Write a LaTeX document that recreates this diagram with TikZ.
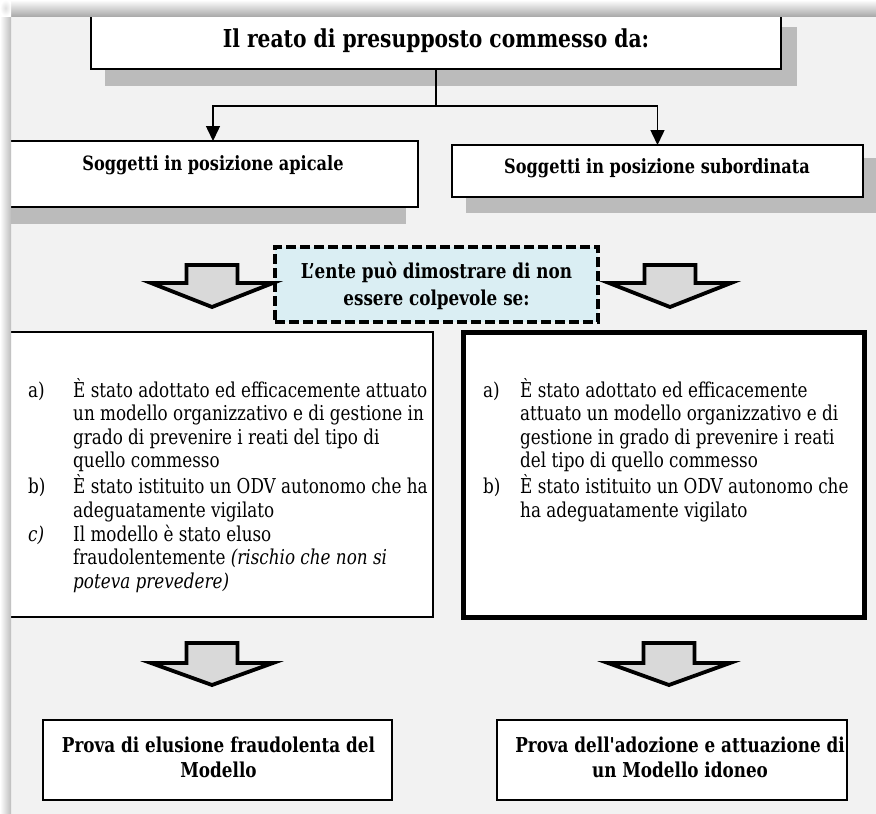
\documentclass[tikz,border=0pt]{standalone}
\usepackage{fontspec}
\setmainfont{DejaVu Serif}[FakeStretch=0.82,Ligatures=TeXOff]
\usetikzlibrary{arrows.meta}
\definecolor{framebg}{HTML}{F2F2F2}
\definecolor{shad}{HTML}{BBBBBB}
\definecolor{arrfill}{HTML}{D9D9D9}
\definecolor{lblue}{HTML}{DAEEF3}
\tikzset{
  plainbox/.style={draw=black, line width=1.5pt, fill=white, inner sep=0pt, outer sep=0pt},
  listbox/.style={draw=black, line width=2pt, fill=white, inner sep=0pt, outer sep=0pt},
  heavybox/.style={draw=black, line width=5pt, fill=white, inner sep=0pt, outer sep=0pt},
  dashbox/.style={draw=black, line width=3.5pt, dash pattern=on 10pt off 4pt, fill=lblue, inner sep=0pt, outer sep=0pt},
  conn/.style={line width=1.5pt, -{Triangle[width=14pt,length=15pt]}},
  blockarrow/.style={draw=black, line width=3.8pt, fill=arrfill, line join=miter},
  headtxt/.style={inner sep=0pt, font=\bfseries\fontsize{24.7}{28}\selectfont},
  subtxt/.style={inner sep=0pt, font=\bfseries\fontsize{19.7}{24}\selectfont},
  midtxt/.style={inner sep=0pt, font=\bfseries\fontsize{20.5}{27}\selectfont},
  bottxt/.style={inner sep=0pt, font=\bfseries\fontsize{20.5}{25}\selectfont},
  listtxt/.style={inner sep=0pt, font=\fontsize{20.5}{23.6}\selectfont},
}
\newcommand\blockarr[4]{%
  \draw[blockarrow] (#1-25.5,#2) -- (#1+25.5,#2) -- (#1+25.5,#3) -- (#1+61,#3)
    -- (#1,#4) -- (#1-61,#3) -- (#1-25.5,#3) -- cycle;}
\begin{document}
\begin{tikzpicture}[x=1pt,y=-1pt]
\useasboundingbox (0,0) rectangle (876,814);
\fill[white] (0,0) rectangle (876,814);
\fill[framebg] (11,16) rectangle (876,814);

% shadows of boxes
\fill[shad] (105,27) rectangle (797,86);
\fill[shad] (8,150) rectangle (406,224);
\fill[shad] (466,158) rectangle (876,213);

% top box
\node[plainbox, minimum width=690pt, minimum height=55pt] (top) at (436,41.5) {};
\node[headtxt, anchor=base] (toptxt) at (436,47) {Il reato di presupposto commesso da:};

% second level boxes
\node[plainbox, minimum width=410pt, minimum height=66pt] (apical) at (213,174) {};
\node[subtxt, anchor=base] (apicaltxt) at (213,170) {Soggetti in posizione apicale};
\node[plainbox, minimum width=411pt, minimum height=52pt] (sub) at (657.5,171) {};
\node[subtxt, anchor=base] (subtxt) at (657,173) {Soggetti in posizione subordinata};

% connectors
\coordinate (j) at (436,106);
\draw[line width=1.5pt] (top.south) -- (j);
\draw[conn] (j) -| (apical.north);
\draw[conn] (j) -| (sub.north);

% dashed box
\node[dashbox, minimum width=323pt, minimum height=75pt] (ente) at (436.5,284.5) {};
\node[midtxt, anchor=base] (entetxt1) at (436.5,278) {L’ente può dimostrare di non};
\node[midtxt, anchor=base] (entetxt2) at (436.5,305) {essere colpevole se:};

% block arrows top
\blockarr{212}{265}{283}{307}
\blockarr{670}{265}{283}{307}

% list boxes
\node[listbox, minimum width=425pt, minimum height=285pt] (left) at (220.5,474.5) {};
\node[heavybox, minimum width=401pt, minimum height=285.5pt] (right) at (664,474.75) {};

\node[listtxt, anchor=base west] (lefttxt) at (28,397) {%
\begin{tabular}[t]{@{}l@{}l@{}}
\makebox[45pt][l]{a)} & È stato adottato ed efficacemente attuato\\
 & un modello organizzativo e di gestione in\\
 & grado di prevenire i reati del tipo di\\
 & quello commesso\\
\makebox[45pt][l]{b)} & È stato istituito un ODV autonomo che ha\\
 & adeguatamente vigilato\\
\makebox[45pt][l]{\itshape c)} & Il modello è stato eluso\\
 & fraudolentemente \textit{(rischio che non si}\\
 & \textit{poteva prevedere)}
\end{tabular}};

\node[listtxt, anchor=base west] (righttxt) at (483,397) {%
\begin{tabular}[t]{@{}l@{}l@{}}
\makebox[37pt][l]{a)} & È stato adottato ed efficacemente\\
 & attuato un modello organizzativo e di\\
 & gestione in grado di prevenire i reati\\
 & del tipo di quello commesso\\
\makebox[37pt][l]{b)} & È stato istituito un ODV autonomo che\\
 & ha adeguatamente vigilato
\end{tabular}};

% block arrows bottom
\blockarr{212}{643}{663}{685}
\blockarr{669}{643}{663}{685}

% bottom boxes
\node[plainbox, minimum width=349pt, minimum height=80pt] (proofl) at (217.5,760) {};
\node[bottxt, anchor=base] (prooflt1) at (218.5,752) {Prova di elusione fraudolenta del};
\node[bottxt, anchor=base] (prooflt2) at (218.5,777) {Modello};
\node[plainbox, minimum width=350pt, minimum height=80pt] (proofr) at (672,760) {};
\node[bottxt, anchor=base] (proofrt1) at (680,752) {Prova dell'adozione e attuazione di};
\node[bottxt, anchor=base] (proofrt2) at (680,777) {un Modello idoneo};

% outer frame shadow
\shade[top color=white, bottom color=black!33] (11,0) rectangle (876,16);
\shade[left color=white, right color=black!26] (0,16) rectangle (11,814);
\shade[inner color=black!12, outer color=white] (0,0) rectangle (11,16);
\end{tikzpicture}
\end{document}
